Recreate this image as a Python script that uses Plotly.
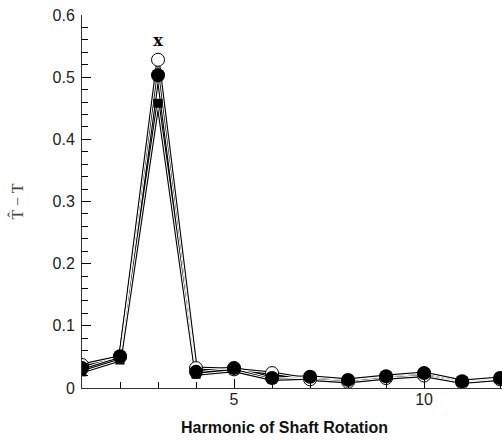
import plotly.graph_objects as go

harmonics = [1, 2, 3, 4, 5, 6, 7, 8, 9, 10, 11, 12]
open_circle = [0.037, 0.050, 0.528, 0.032, 0.030, 0.024, 0.014, 0.010, 0.016, 0.020, 0.009, 0.014]
filled_circle = [0.032, 0.051, 0.503, 0.026, 0.032, 0.016, 0.018, 0.013, 0.019, 0.024, 0.011, 0.016]
filled_square = [0.026, 0.045, 0.458, 0.022, 0.028, 0.014, 0.016, 0.012, 0.018, 0.022, 0.010, 0.015]
x_mark_x = [3]
x_mark_y = [0.557]
x_title = "Harmonic of Shaft Rotation"
y_title = "T\u0302 \u2212 T"

series = [
    (filled_square, dict(symbol="square", size=9, color="black")),
    (open_circle, dict(symbol="circle", size=13, color="white", line=dict(width=1, color="black"))),
    (filled_circle, dict(symbol="circle", size=14, color="black")),
]

fig = go.Figure()
for ys, _ in series:
    fig.add_trace(go.Scatter(x=harmonics, y=ys, mode="lines",
                             line=dict(color="black", width=3.2)))
for ys, _ in series:
    fig.add_trace(go.Scatter(x=harmonics, y=ys, mode="lines",
                             line=dict(color="white", width=1)))
for ys, mk in series:
    fig.add_trace(go.Scatter(x=harmonics, y=ys, mode="markers", marker=mk))
fig.add_trace(go.Scatter(x=x_mark_x, y=x_mark_y, mode="text", text=["<b>x</b>"],
                         textfont=dict(family="DejaVu Serif", size=16, color="black"),
                         textposition="middle center"))

fig.add_annotation(text="<b>" + x_title + "</b>", xref="paper", yref="paper",
                   x=0.5, y=0, xanchor="center", yanchor="middle",
                   xshift=-8, yshift=-39, showarrow=False,
                   font=dict(family="Liberation Sans, Arial", size=16, color="#111"))
fig.add_annotation(text=y_title, xref="paper", yref="paper",
                   x=0, y=0.5, xanchor="center", yanchor="middle", textangle=-90,
                   xshift=-66, yshift=0, showarrow=False,
                   font=dict(family="Liberation Serif", size=16, color="#444"))

fig.update_layout(
    width=502, height=440,
    margin=dict(l=82, r=0, t=15, b=52),
    paper_bgcolor="white", plot_bgcolor="white",
    showlegend=False,
    font=dict(family="Liberation Sans, Arial", size=16, color="black"),
    xaxis=dict(range=[1, 12.05], tickvals=[5, 10], ticks="inside", ticklen=9,
               tickcolor="black", showline=True, linecolor="#333", linewidth=1,
               showgrid=False, zeroline=False, tickfont=dict(size=16, color="#222"),
               ticklabelstandoff=-3,
               minor=dict(tickvals=[1, 2, 3, 4, 6, 7, 8, 9, 11, 12], ticks="inside",
                          ticklen=6, tickcolor="black")),
    yaxis=dict(range=[0, 0.6], tickvals=[0, 0.1, 0.2, 0.3, 0.4, 0.5, 0.6],
               ticktext=["0", "0.1", "0.2", "0.3", "0.4", "0.5", "0.6"],
               ticks="inside", ticklen=9, tickcolor="black",
               showline=True, linecolor="#333", linewidth=1,
               showgrid=False, zeroline=False, tickfont=dict(size=16, color="#222"),
               ticklabelstandoff=3,
               minor=dict(dtick=0.02, ticks="inside", ticklen=6, tickcolor="black")),
)

fig.write_html("out.html")
